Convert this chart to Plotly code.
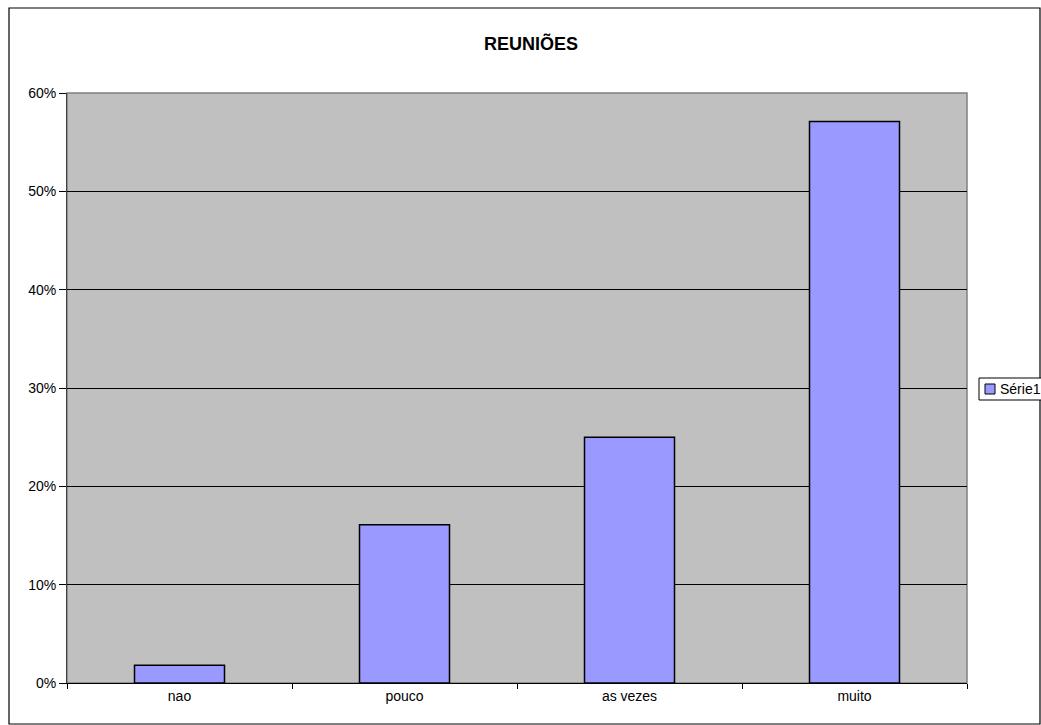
import plotly.graph_objects as go

categories = ["nao", "pouco", "as vezes", "muito"]
values = [0.018, 0.161, 0.25, 0.571]
series_name = "Série1"
title_text = "REUNIÕES"
bar_color = "#9999FF"

fig = go.Figure()
fig.add_trace(go.Bar(
    x=categories, y=values, name=series_name,
    marker=dict(color=bar_color, line=dict(color="black", width=1.5)),
    width=0.4, showlegend=False,
))

L, R, T, B = 67, 967, 93, 683
W, H = 1041, 725
pw, ph = R - L, B - T

def px(x):
    return (x - L) / pw

def py(y):
    return (B - y) / ph

fig.update_layout(
    width=W, height=H,
    margin=dict(l=L, r=W - R, t=T, b=H - B, autoexpand=False),
    paper_bgcolor="white",
    plot_bgcolor="#C0C0C0",
    font=dict(family="Liberation Sans, Arial", size=14, color="black"),
    title=dict(text="<b>" + title_text + "</b>", x=px(531), xref="paper", xanchor="center",
               y=1 - 44 / H, yanchor="middle",
               font=dict(size=18, color="black")),
    showlegend=False,
    bargap=0.6,
)
fig.update_xaxes(
    showgrid=False, showline=True, linecolor="black", linewidth=1,
    ticks="outside", tickson="boundaries", ticklen=5, tickcolor="black",
    tickfont=dict(size=14), zeroline=False,
)
fig.update_yaxes(
    range=[0, 0.6], dtick=0.1, tickformat=".0%",
    showgrid=True, gridcolor="black", gridwidth=1,
    showline=True, linecolor="#404040", linewidth=1,
    ticks="outside", ticklen=7, tickcolor="black",
    tickfont=dict(size=14), zeroline=False,
)
# plot area border (gray top/right)
fig.add_shape(type="rect", xref="paper", yref="paper", x0=0, y0=0, x1=1, y1=1,
              line=dict(color="#808080", width=1.5), layer="below")
# outer chart frame
fig.add_shape(type="rect", xref="paper", yref="paper",
              x0=px(9), y0=py(724), x1=px(1040), y1=py(8),
              line=dict(color="black", width=1.2))

# legend (drawn manually to match the compact legend of the reference)
fig.add_shape(type="rect", xref="paper", yref="paper",
              x0=px(979), y0=py(400), x1=px(1050), y1=py(378),
              line=dict(color="black", width=1), fillcolor="white")
fig.add_shape(type="rect", xref="paper", yref="paper",
              x0=px(985), y0=py(394), x1=px(995), y1=py(384),
              line=dict(color="black", width=1), fillcolor=bar_color)
fig.add_annotation(text=series_name, xref="paper", yref="paper",
                   x=px(998), y=py(389), xanchor="left", yanchor="middle",
                   showarrow=False, font=dict(size=14, color="black"))

fig.write_html("out.html")
